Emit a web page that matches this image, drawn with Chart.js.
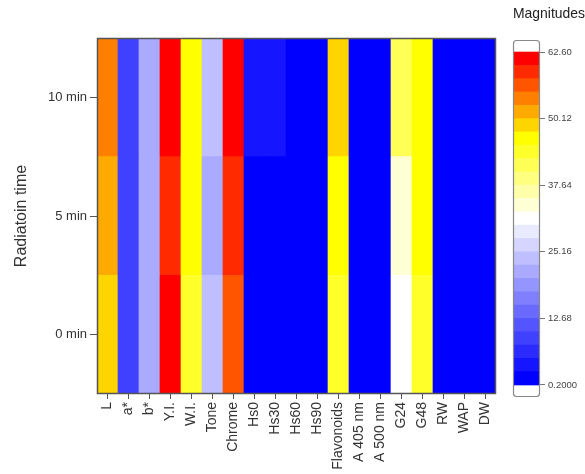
<!DOCTYPE html>
<html>
<head>
<meta charset="utf-8">
<script src="https://cdn.jsdelivr.net/npm/chart.js@4.4.1/dist/chart.umd.min.js"></script>
<style>
    html, body { margin: 0; padding: 0; background: #fff; }
    #wrap { position: relative; width: 585px; height: 474px; }
    #heatmap { position: absolute; left: 0; top: 0; }
    #colorbar { position: absolute; left: 498px; top: 0; }
</style>
</head>
<body>
<div id="wrap">
    <canvas id="heatmap" width="585" height="474"></canvas>
    <canvas id="colorbar" width="87" height="474"></canvas>
</div>
<script>
// Categories
const columns = ['L', 'a*', 'b*', 'Y.I.', 'W.I.', 'Tone', 'Chrome', 'Hs0', 'Hs30', 'Hs60', 'Hs90',
    'Flavonoids', 'A 405 nm', 'A 500 nm', 'G24', 'G48', 'RW', 'WAP', 'DW'];
const rowLabels = ['0 min', '5 min', '10 min'];

// Magnitudes per row
const min0 = [49.0, 8.9, 21.3, 62.3, 44.0, 24.0, 56.5, 0.8, 0.8, 0.7, 0.7, 43.5, 0.6, 0.6, 32.0, 43.5, 0.5, 0.5, 0.5];
const min5 = [51.5, 8.9, 21.3, 59.0, 45.8, 21.0, 59.2, 0.8, 0.8, 0.7, 0.7, 47.0, 0.6, 0.6, 34.0, 46.5, 0.5, 0.5, 0.5];
const min10 = [54.0, 8.9, 21.6, 62.0, 46.5, 23.5, 61.8, 3.0, 3.0, 0.8, 0.7, 49.0, 0.6, 0.6, 41.0, 47.0, 0.5, 0.5, 0.5];
const rows = [min0, min5, min10];

// Color scale
const scaleMin = 0.2;
const scaleMax = 62.6;
const levelCount = 25;
const barTicks = [0.2, 12.68, 25.16, 37.64, 50.12, 62.6];
const barTickLabels = ['0.2000', '12.68', '25.16', '37.64', '50.12', '62.60'];

const fontFamily = '"Liberation Sans", Arial, sans-serif';

// blue -> white -> yellow -> red
function paletteColor(t) {
    let r, g, b;
    if (t < 0.5) {
        const k = t / 0.5;
        r = 255 * k; g = 255 * k; b = 255;
    } else if (t < 0.75) {
        const k = (t - 0.5) / 0.25;
        r = 255; g = 255; b = 255 * (1 - k);
    } else {
        const k = (t - 0.75) / 0.25;
        r = 255; g = 255 * (1 - k); b = 0;
    }
    return `rgb(${Math.round(r)},${Math.round(g)},${Math.round(b)})`;
}

function levelOf(v) {
    const idx = Math.floor((v - scaleMin) / (scaleMax - scaleMin) * levelCount);
    return Math.min(levelCount - 1, Math.max(0, idx));
}

function colorFor(v) {
    return paletteColor(levelOf(v) / (levelCount - 1));
}

// Frame around the plot area
function framePlugin(color, width, radius) {
    return {
        id: 'frame',
        afterDatasetsDraw(chart) {
            const { ctx, chartArea } = chart;
            ctx.save();
            ctx.strokeStyle = color;
            ctx.lineWidth = width;
            ctx.beginPath();
            if (radius && ctx.roundRect) {
                ctx.roundRect(chartArea.left + 0.5, chartArea.top + 0.5,
                    chartArea.width - 1, chartArea.height - 1, radius);
            } else {
                ctx.rect(chartArea.left + 0.5, chartArea.top + 0.5, chartArea.width - 1, chartArea.height - 1);
            }
            ctx.stroke();
            ctx.restore();
        }
    };
}

// --- Heatmap ---
new Chart(document.getElementById('heatmap'), {
    type: 'bar',
    data: {
        labels: columns,
        datasets: rows.map((vals, r) => ({
            label: rowLabels[r],
            data: columns.map(() => [r - 0.5, r + 0.5]),
            backgroundColor: vals.map(colorFor),
            borderWidth: 0,
            barPercentage: 1,
            categoryPercentage: 1
        }))
    },
    options: {
        responsive: false,
        animation: false,
        layout: { padding: { top: 38, right: 89, left: 0, bottom: 0 } },
        plugins: {
            legend: { display: false },
            tooltip: { enabled: false }
        },
        scales: {
            x: {
                stacked: true,
                ticks: {
                    maxRotation: 90,
                    minRotation: 90,
                    autoSkip: false,
                    color: '#333',
                    padding: 3,
                    font: { size: 14, family: fontFamily }
                },
                grid: { drawOnChartArea: false, offset: false, tickLength: 5, color: '#555' },
                border: { display: false },
                afterFit: s => { s.height = 80; }
            },
            y: {
                min: -0.5,
                max: 2.5,
                afterBuildTicks: s => { s.ticks = rowLabels.map((_, i) => ({ value: i })); },
                ticks: {
                    callback: v => rowLabels[v],
                    color: '#333',
                    padding: 3,
                    font: { size: 13, family: fontFamily }
                },
                grid: { drawOnChartArea: false, tickLength: 7, color: '#555' },
                border: { display: false },
                title: {
                    display: true,
                    text: 'Radiatoin time',
                    color: '#333',
                    font: { size: 16, family: fontFamily },
                    padding: { top: 12, bottom: 0 }
                },
                afterFit: s => { s.width = 97; }
            }
        }
    },
    plugins: [framePlugin('#555', 1.5, 0)]
});

// --- Color bar ---
const levelStep = (scaleMax - scaleMin) / levelCount;
const barExtra = 2.25;

new Chart(document.getElementById('colorbar'), {
    type: 'bar',
    data: {
        labels: [''],
        datasets: Array.from({ length: levelCount }, (_, i) => ({
            data: [[scaleMin + i * levelStep, scaleMin + (i + 1) * levelStep]],
            backgroundColor: paletteColor(i / (levelCount - 1)),
            borderWidth: 0,
            barPercentage: 1,
            categoryPercentage: 1
        }))
    },
    options: {
        responsive: false,
        animation: false,
        layout: { padding: { left: 15, top: 0, right: 0, bottom: 77 } },
        plugins: {
            legend: { display: false },
            tooltip: { enabled: false },
            title: {
                display: true,
                text: 'Magnitudes',
                color: '#222',
                font: { size: 15, family: fontFamily, weight: 'normal' },
                padding: { top: 5, bottom: 17 }
            }
        },
        scales: {
            x: { stacked: true, display: false },
            y: {
                position: 'right',
                min: scaleMin - barExtra,
                max: scaleMax + barExtra,
                afterBuildTicks: s => { s.ticks = barTicks.map(v => ({ value: v })); },
                ticks: {
                    callback: (v, i) => barTickLabels[i],
                    color: '#444',
                    padding: 3,
                    font: { size: 9.5, family: fontFamily }
                },
                grid: { drawOnChartArea: false, tickLength: 5, color: '#777' },
                border: { display: false },
                afterFit: s => { s.width = 45; }
            }
        }
    },
    plugins: [framePlugin('#888', 1.2, 3)]
});
</script>
</body>
</html>
